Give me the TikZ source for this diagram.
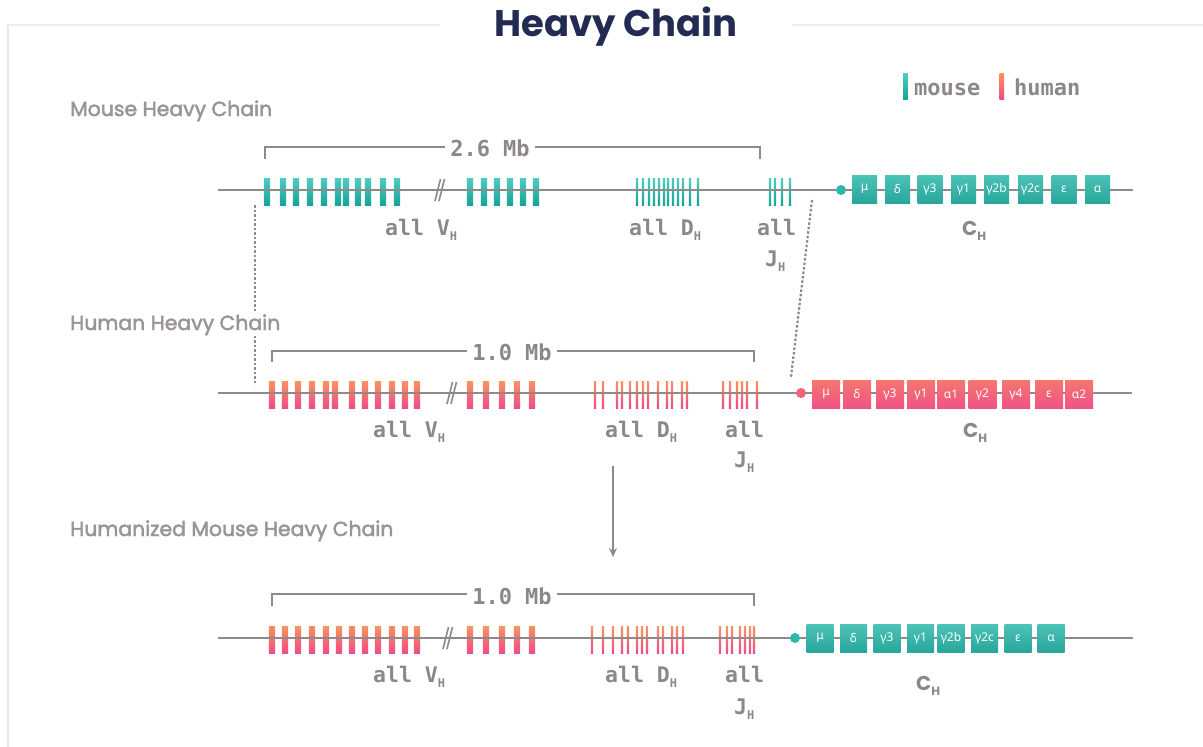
\documentclass[tikz,border=0pt]{standalone}
\usepackage{fontspec}
\setmainfont{Poppins}
\newfontfamily\labfont[FakeBold=2.2]{Poppins}
\newfontfamily\monof{DejaVu Sans Mono}
\newfontfamily\grk{Noto Sans}
\usetikzlibrary{arrows.meta}
\definecolor{tealT}{HTML}{4FCDC2}
\definecolor{tealB}{HTML}{17A496}
\definecolor{tealBox}{HTML}{2DB8AB}
\definecolor{pinkT}{HTML}{FA935E}
\definecolor{pinkB}{HTML}{EE4C88}
\definecolor{lgray}{HTML}{8E8A8A}
\definecolor{txtgray}{HTML}{8C8888}
\definecolor{labgray}{HTML}{999595}
\definecolor{navy}{HTML}{222B52}
\definecolor{framec}{HTML}{ECEAF2}
\newcommand\barsV[3]{\foreach \bx in {#3}{\shade[#1] (\bx-3.2,#2-12) rectangle (\bx+3.2,#2+15);}}
\newcommand\barsD[3]{\foreach \bx in {#3}{\shade[#1] (\bx-1.1,#2-12) rectangle (\bx+1.1,#2+15);}}
\newcommand\brk[2]{\draw[lgray,line width=1.6] (#1-5,#2+11) -- (#1+0.5,#2-11); \draw[lgray,line width=1.6] (#1-1,#2+11) -- (#1+4.5,#2-11);}
\newcommand\Hsub{{\fontsize{12}{12}\selectfont\raisebox{-5pt}{H}}}
\begin{document}
\begin{tikzpicture}[x=1pt,y=-1pt,
  tealbar/.style={top color=tealT,bottom color=tealB},
  pinkbar/.style={top color=pinkT,bottom color=pinkB},
  chainline/.style={draw=lgray,line width=2.6},
  cbox/.style={minimum height=28pt,inner sep=0pt,text=white,font=\grk\fontsize{12}{12}\selectfont},
  tealbox/.style={cbox,top color=tealBox!85!white,bottom color=tealBox!90!black},
  pinkbox/.style={cbox,top color=pinkT!60!pinkB,bottom color=pinkB!90!pinkT},
  gene/.style={anchor=base west,inner sep=0pt,text=txtgray,font=\monof\bfseries\fontsize{21.5}{21.5}\selectfont},
  chlab/.style={anchor=base west,inner sep=1pt,text=labgray,font=\labfont\fontsize{20.4}{20.4}\selectfont,fill=white},
  chC/.style={anchor=base west,inner sep=0pt,text=txtgray,font=\bfseries\fontsize{20}{20}\selectfont},
  bracket/.style={draw=lgray,line width=2.2},
  mb/.style={fill=white,inner xsep=5pt,inner ysep=1pt,text=txtgray,font=\monof\bfseries\fontsize{22}{22}\selectfont},
  dotted line/.style={draw=lgray,line width=2.2,dash pattern=on 2.5pt off 2pt},
  dotc/.style={circle,minimum size=10pt,inner sep=0pt}
]
\useasboundingbox (0,0) rectangle (1203,747);
\fill[white] (0,0) rectangle (1203,747);
% frame
\draw[framec,line width=2] (440,25) -- (8,25) -- (8,747);
\draw[framec,line width=2] (792,25) -- (1203,25);
% title
\node[anchor=base,text=navy,font=\bfseries\fontsize{37}{37}\selectfont,inner sep=0pt] (title) at (616,36) {Heavy Chain};
% legend
\shade[tealbar] (903,73) rectangle (907.5,99);
\node[anchor=base west,inner sep=0pt,text=txtgray,font=\monof\bfseries\fontsize{22}{22}\selectfont] (legm) at (914,95) {mouse};
\shade[pinkbar] (999.5,73) rectangle (1004,99);
\node[anchor=base west,inner sep=0pt,text=txtgray,font=\monof\bfseries\fontsize{22}{22}\selectfont] (legh) at (1014,95) {human};

% ===== Mouse row =====
\node[chlab] (lm) at (69,116) {Mouse Heavy Chain};
\draw[bracket] (265,159) -- (265,147) -- (760,147) -- (760,159);
\node[mb] (mb1) at (490,148) {2.6 Mb};
\barsV{tealbar}{190}{267,283,296,310,324,338,346,358,368,383,397}
\barsV{tealbar}{190}{470,484,497,510,523,536}
\barsD{tealbar}{190}{637,643,649,654,659,664,668,673,678,683,690,698}
\barsD{tealbar}{190}{770,775,782,790}
\draw[chainline] (218,190) coordinate (m0) -- (1133,190);
\brk{440}{190}
\node[dotc,fill=tealBox] (mdot) at (841,190) {};
\foreach \bx/\lab [count=\i] in {864.5/μ,897.5/δ,930/γ3,963.5/γ1,996.5/γ2b,1030.5/γ2c,1064/ε,1097.5/α}
  \node[tealbox,minimum width=25pt] (mc\i) at (\bx,189) {\lab};
\node[gene] (mv) at (385,235) {all V\Hsub};
\node[gene] (md) at (629,235) {all D\Hsub};
\node[gene] (mj) at (757,235) {all};
\node[gene] (mj2) at (765,266) {J\Hsub};
\node[chC] (mch) at (962,235) {C\Hsub};

% ===== Human row =====
\coordinate (dA) at (255,205);
\coordinate (dB) at (255,385);
\draw[dotted line] (dA) -- (dB);
\coordinate (dC) at (812,200);
\coordinate (dD) at (791,377);
\draw[dotted line] (dC) -- (dD);
\node[chlab] (lh) at (69,330) {Human Heavy Chain};
\draw[bracket] (272,362) -- (272,351) -- (754,351) -- (754,362);
\node[mb] (mb2) at (512,352) {1.0 Mb};
\barsV{pinkbar}{393}{272,285,298,312,326,335,352,365,378,392,405,417}
\barsV{pinkbar}{393}{470,486,502,517,532}
\barsD{pinkbar}{393}{595,603,617,622,630,637,643,648,658,667,672,682,687}
\barsD{pinkbar}{393}{723,730,737,742,747,757}
\draw[chainline] (218,393) -- (1132,393);
\brk{452}{393}
\node[dotc,fill=pinkB!70!pinkT] (hdot) at (801,393) {};
\foreach \bx/\lab [count=\i] in {826/μ,857/δ,890/γ3,921/γ1,951/α1,982.5/γ2,1016/γ4,1049/ε,1079/α2}
  \node[pinkbox,minimum width=28pt] (hc\i) at (\bx,394) {\lab};
\node[gene] (hv) at (373,437) {all V\Hsub};
\node[gene] (hd) at (605,437) {all D\Hsub};
\node[gene] (hj) at (725,437) {all};
\node[gene] (hj2) at (734,467) {J\Hsub};
\node[chC] (hch) at (963,437) {C\Hsub};

% arrow
\coordinate (aS) at (613,466);
\coordinate (aE) at (613,557);
\draw[lgray,line width=1.8,-{Stealth[length=9pt,width=8pt]}] (aS) -- (aE);

% ===== Humanized row =====
\node[chlab] (lz) at (69,536) {Humanized Mouse Heavy Chain};
\draw[bracket] (272,606) -- (272,594) -- (754,594) -- (754,606);
\node[mb] (mb3) at (512,596) {1.0 Mb};
\barsV{pinkbar}{638}{272,285,298,312,326,339,352,365,378,392,405,417}
\barsV{pinkbar}{638}{470,486,502,517,532}
\barsD{pinkbar}{638}{592,603,613,622,628,637,642,647,658,663,672,677,683}
\barsD{pinkbar}{638}{720,727,732,740,745,750,754}
\draw[chainline] (218,638) -- (1133,638);
\brk{448}{638}
\node[dotc,fill=tealBox] (zdot) at (795,638) {};
\foreach \bx/\lab [count=\i] in {820/μ,853.5/δ,887/γ3,920.5/γ1,951/γ2b,984.5/γ2c,1018/ε,1051/α}
  \node[tealbox,minimum width=27pt] (zc\i) at (\bx,638) {\lab};
\node[gene] (zv) at (373,682) {all V\Hsub};
\node[gene] (zd) at (605,682) {all D\Hsub};
\node[gene] (zj) at (725,682) {all};
\node[gene] (zj2) at (734,714) {J\Hsub};
\node[chC] (zch) at (916,690) {C\Hsub};
\end{tikzpicture}
\end{document}
